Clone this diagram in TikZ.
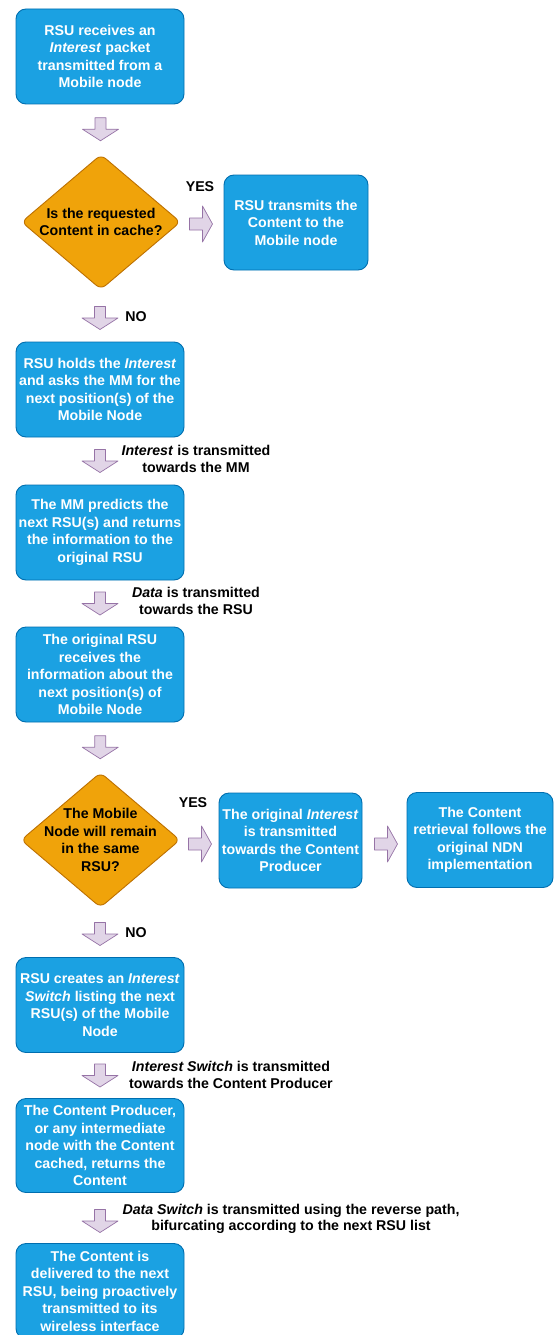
\documentclass[tikz,border=0pt]{standalone}
\usepackage{fontspec}
\setmainfont{Liberation Sans}
\usetikzlibrary{shapes.geometric,calc}
\definecolor{boxfill}{HTML}{1BA1E2}
\definecolor{boxline}{HTML}{006EAF}
\definecolor{decfill}{HTML}{F0A30A}
\definecolor{decline}{HTML}{BD7000}
\definecolor{arrfill}{HTML}{E1D5E7}
\definecolor{arrline}{HTML}{9673A6}
\tikzset{
  x=1pt, y=-1pt,
  every node/.style={font=\fontsize{14.2}{17.5}\selectfont\bfseries},
  stepbox/.style={draw=boxline, line width=0.9pt, fill=boxfill, rounded corners=10pt,
    text=white, align=center, minimum width=168pt, minimum height=95pt, inner sep=0pt},
  sidebox/.style={stepbox, minimum width=144pt},
  decision/.style={diamond, draw=decline, line width=0.9pt, fill=decfill,
    minimum width=159pt, minimum height=135pt, inner sep=0pt, rounded corners=6pt},
  dectext/.style={align=center, text=black, inner sep=0pt},
  note/.style={align=center, text=black, inner sep=0pt,
    font=\fontsize{14.2}{16.5}\selectfont\bfseries},
  pics/downarrow/.style={code={
    \draw[draw=arrline, fill=arrfill, line width=0.7pt, line join=round]
      (-5.5,-11.5) -- (5.5,-11.5) -- (5.5,0) -- (18,0) -- (0,11.5)
      -- (-18,0) -- (-5.5,0) -- cycle;}},
  pics/rightarrow/.style={code={
    \draw[draw=arrline, fill=arrfill, line width=0.7pt, line join=round]
      (-11.5,-6) -- (1.5,-6) -- (1.5,-18) -- (11.5,0) -- (1.5,18)
      -- (1.5,6) -- (-11.5,6) -- cycle;}}
}
\begin{document}
\begin{tikzpicture}
\useasboundingbox[fill=white] (0,0) rectangle (554,1335);

% main column of steps
\node[stepbox] (b1) at (100,56.5) {RSU receives an\\\textit{Interest} packet\\transmitted from a\\Mobile node};
\node[decision] (d1) at (101,222) {};
\node[dectext] (d1t) at (d1.center) {Is the requested\\Content in cache?};
\node[sidebox] (r1) at (296,222.5) {RSU transmits the\\Content to the\\Mobile node};
\node[stepbox] (b3) at (100,389.5) {RSU holds the \textit{Interest}\\and asks the MM for the\\next position(s) of the\\Mobile Node};
\node[stepbox] (b4) at (100,532.5) {The MM predicts the\\next RSU(s) and returns\\the information to the\\original RSU};
\node[stepbox] (b5) at (100,674.5) {The original RSU\\receives the\\information about the\\next position(s) of\\Mobile Node};
\node[decision] (d2) at (100.5,840) {};
\node[dectext] (d2t) at (d2.center) {The Mobile\\Node will remain\\in the same\\RSU?};
\node[sidebox, minimum width=143pt] (r2) at (290.5,840.5) {The original \textit{Interest}\\is transmitted\\towards the Content\\Producer};
\node[sidebox, minimum width=146pt] (r3) at (480,840) {The Content\\retrieval follows the\\original NDN\\implementation};
\node[stepbox] (b6) at (100,1005) {RSU creates an \textit{Interest}\\\textit{Switch} listing the next\\RSU(s) of the Mobile\\Node};
\node[stepbox, minimum height=94pt] (b7) at (100,1145.5) {The Content Producer,\\or any intermediate\\node with the Content\\cached, returns the\\Content};
\node[stepbox] (b8) at (100,1291) {The Content is\\delivered to the next\\RSU, being proactively\\transmitted to its\\wireless interface};

% block arrows between the steps
\pic at ($(b1.south)!0.5!(d1.north)$) {downarrow};
\pic at (201,224) {rightarrow};
\pic at (100,318) {downarrow};
\pic at ($(b3.south)!0.5!(b4.north)$) {downarrow};
\pic at ($(b4.south)!0.5!(b5.north)$) {downarrow};
\pic at ($(b5.south)!0.5!(d2.north)$) {downarrow};
\pic at (200,844) {rightarrow};
\pic at (386,844) {rightarrow};
\pic at (100,934) {downarrow};
\pic at ($(b6.south)!0.5!(b7.north)$) {downarrow};
\pic at (100,1221) {downarrow};

% branch and transfer labels
\node[note] (yes1) at (200,187) {YES};
\node[note] (no1) at (136,317) {NO};
\node[note] (yes2) at (193,803) {YES};
\node[note] (no2) at (136,933) {NO};
\node[note] (m1) at (196,459) {\textit{Interest} is transmitted\\towards the MM};
\node[note] (m2) at (196,601) {\textit{Data} is transmitted\\towards the RSU};
\node[note] (m3) at (231,1075) {\textit{Interest Switch} is transmitted\\towards the Content Producer};
\node[note] (m4) at (291,1219) {\textit{Data Switch} is transmitted using the reverse path,\\bifurcating according to the next RSU list};
\end{tikzpicture}
\end{document}
